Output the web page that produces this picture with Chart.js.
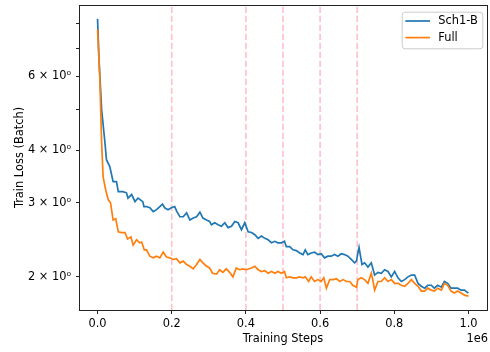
<!DOCTYPE html>
<html>
<head>
<meta charset="utf-8">
<script src="https://cdn.jsdelivr.net/npm/chart.js@4/dist/chart.umd.min.js"></script>
<style>
  html, body { margin: 0; padding: 0; background: #fff; }
  #chart { display: block; }
</style>
</head>
<body>
<canvas id="chart" width="490" height="352"></canvas>
<script>
// training steps are in units of 1e6 (the axis shows "1e6" as offset)
const sch1Steps = [
    0, 0.004, 0.011, 0.020, 0.024, 0.033, 0.042, 0.051, 0.056, 0.068,
    0.078, 0.082, 0.092, 0.101, 0.109, 0.122, 0.125, 0.132, 0.141, 0.150,
    0.159, 0.168, 0.175, 0.181, 0.190, 0.199, 0.208, 0.214, 0.222, 0.231,
    0.240, 0.249, 0.258, 0.267, 0.276, 0.284, 0.294, 0.302, 0.307, 0.316,
    0.325, 0.334, 0.343, 0.352, 0.361, 0.370, 0.379, 0.388, 0.397, 0.406,
    0.415, 0.424, 0.433, 0.442, 0.451, 0.460, 0.469, 0.478, 0.486, 0.496,
    0.504, 0.509, 0.518, 0.527, 0.536, 0.545, 0.554, 0.560, 0.567, 0.576,
    0.585, 0.594, 0.603, 0.612, 0.621, 0.630, 0.639, 0.648, 0.657, 0.666,
    0.675, 0.684, 0.693, 0.698, 0.702, 0.705, 0.709, 0.713, 0.720, 0.729,
    0.738, 0.747, 0.756, 0.765, 0.774, 0.783, 0.792, 0.801, 0.810, 0.819,
    0.828, 0.837, 0.846, 0.855, 0.864, 0.873, 0.882, 0.890, 0.900, 0.908,
    0.917, 0.927, 0.935, 0.944, 0.953, 0.962, 0.971, 0.980, 0.989, 1.000
];
const sch1Loss = [
    8.22, 6.57, 5.00, 4.17, 3.80, 3.66, 3.37, 3.37, 3.19, 3.19,
    3.17, 3.08, 3.14, 3.02, 3.08, 3.02, 2.94, 2.94, 2.92, 2.86,
    2.89, 2.94, 2.98, 2.92, 2.89, 2.92, 2.94, 2.86, 2.78, 2.78,
    2.84, 2.73, 2.76, 2.78, 2.85, 2.76, 2.73, 2.71, 2.66, 2.69,
    2.66, 2.64, 2.69, 2.62, 2.64, 2.71, 2.69, 2.59, 2.69, 2.56,
    2.55, 2.52, 2.47, 2.50, 2.47, 2.45, 2.41, 2.43, 2.41, 2.41,
    2.43, 2.36, 2.36, 2.32, 2.31, 2.28, 2.26, 2.32, 2.26, 2.28,
    2.29, 2.26, 2.27, 2.22, 2.24, 2.24, 2.26, 2.24, 2.27, 2.26,
    2.24, 2.20, 2.16, 2.18, 2.28, 2.35, 2.24, 2.14, 2.16, 2.11,
    2.16, 2.02, 2.05, 2.04, 2.08, 2.06, 2.00, 2.06, 1.99, 1.95,
    1.97, 2.00, 2.02, 2.02, 1.93, 1.90, 1.88, 1.91, 1.91, 1.88,
    1.91, 1.89, 1.95, 1.93, 1.88, 1.88, 1.88, 1.86, 1.86, 1.83
];
const fullSteps = [
    0, 0.006, 0.011, 0.015, 0.022, 0.029, 0.035, 0.042, 0.049, 0.056,
    0.065, 0.074, 0.081, 0.090, 0.096, 0.105, 0.114, 0.119, 0.126, 0.132,
    0.141, 0.150, 0.159, 0.168, 0.177, 0.186, 0.195, 0.204, 0.213, 0.222,
    0.231, 0.240, 0.249, 0.258, 0.267, 0.276, 0.284, 0.294, 0.302, 0.310,
    0.321, 0.329, 0.338, 0.347, 0.356, 0.365, 0.374, 0.383, 0.392, 0.401,
    0.415, 0.424, 0.433, 0.442, 0.451, 0.460, 0.469, 0.478, 0.486, 0.496,
    0.504, 0.509, 0.518, 0.527, 0.536, 0.545, 0.554, 0.560, 0.569, 0.576,
    0.585, 0.594, 0.603, 0.610, 0.617, 0.626, 0.635, 0.644, 0.653, 0.662,
    0.671, 0.680, 0.688, 0.698, 0.702, 0.711, 0.720, 0.729, 0.738, 0.742,
    0.747, 0.756, 0.765, 0.774, 0.783, 0.792, 0.801, 0.810, 0.819, 0.828,
    0.837, 0.846, 0.855, 0.864, 0.873, 0.882, 0.890, 0.900, 0.908, 0.917,
    0.927, 0.935, 0.944, 0.953, 0.962, 0.971, 0.980, 0.989, 1.000
];
const fullLoss = [
    7.75, 5.99, 4.17, 3.46, 3.22, 3.05, 3.00, 2.73, 2.75, 2.56,
    2.55, 2.55, 2.46, 2.49, 2.38, 2.45, 2.41, 2.42, 2.32, 2.32,
    2.24, 2.22, 2.24, 2.22, 2.29, 2.23, 2.22, 2.20, 2.21, 2.16,
    2.18, 2.14, 2.12, 2.09, 2.14, 2.20, 2.16, 2.12, 2.10, 2.04,
    2.03, 2.08, 2.05, 2.09, 2.05, 2.00, 2.10, 2.08, 2.09, 2.08,
    2.10, 2.12, 2.08, 2.06, 2.07, 2.04, 2.06, 2.04, 2.06, 2.04,
    2.06, 1.99, 2.00, 1.99, 1.99, 2.00, 1.99, 2.00, 1.95, 2.00,
    1.95, 1.97, 1.95, 1.99, 1.88, 1.97, 1.97, 1.98, 1.95, 1.97,
    1.95, 1.95, 1.91, 1.89, 1.97, 1.99, 1.97, 1.93, 2.04, 1.97,
    1.86, 1.95, 1.95, 1.99, 1.95, 1.97, 1.93, 1.93, 1.91, 1.90,
    1.93, 1.97, 1.93, 1.90, 1.85, 1.85, 1.88, 1.86, 1.85, 1.88,
    1.86, 1.93, 1.91, 1.85, 1.83, 1.85, 1.83, 1.81, 1.80
];

// vertical markers (schedule switch points)
const markerSteps = [0.2, 0.4, 0.5, 0.6, 0.7];

const xTicks = [0, 0.2, 0.4, 0.6, 0.8, 1.0];
const xTickLabels = ['0.0', '0.2', '0.4', '0.6', '0.8', '1.0'];
const yTicks = [2, 3, 4, 5, 6, 7, 8];
const yTickLabels = ['2 × 10⁰', '3 × 10⁰', '4 × 10⁰', '', '6 × 10⁰', '', ''];

const seriesNames = ['Sch1-B', 'Full'];
const seriesColors = ['#1f77b4', '#ff7f0e'];

const X_MIN = -0.05, X_MAX = 1.05;
const Y_MIN = 1.668, Y_MAX = 8.87;

const FONT_SIZE = 11.4;
Chart.defaults.font.family = "'DejaVu Sans', sans-serif";
Chart.defaults.font.size = FONT_SIZE;
Chart.defaults.color = '#000';

function toPoints(xs, ys) {
    return xs.map((x, i) => ({ x: x, y: ys[i] }));
}

// pink dashed lines behind the curves
const markerLines = {
    id: 'markerLines',
    beforeDatasetsDraw(chart) {
        const { ctx, chartArea, scales } = chart;
        ctx.save();
        ctx.strokeStyle = '#ffc0cb';
        ctx.lineWidth = 1.6;
        ctx.setLineDash([6.3, 2.7]);
        markerSteps.forEach(s => {
            const px = scales.x.getPixelForValue(s);
            ctx.beginPath();
            ctx.moveTo(px, chartArea.bottom);
            ctx.lineTo(px, chartArea.top);
            ctx.stroke();
        });
        ctx.restore();
    }
};

// box frame, legend and the offset text
const frameAndLegend = {
    id: 'frameAndLegend',
    afterDatasetsDraw(chart) {
        const { ctx, chartArea } = chart;
        ctx.save();
        ctx.strokeStyle = '#222';
        ctx.lineWidth = 1;
        ctx.strokeRect(chartArea.left + 0.5, chartArea.top + 0.5,
            chartArea.right - chartArea.left, chartArea.bottom - chartArea.top);

        // legend
        const bx = chartArea.right - 85.3, by = chartArea.top + 6.7;
        const bw = 80.6, bh = 36.6;
        ctx.beginPath();
        ctx.roundRect(bx + 0.5, by + 0.5, bw, bh, 3);
        ctx.fillStyle = 'rgba(255,255,255,0.8)';
        ctx.fill();
        ctx.strokeStyle = '#cccccc';
        ctx.stroke();

        ctx.font = FONT_SIZE + "px 'DejaVu Sans'";
        ctx.textBaseline = 'middle';
        ctx.textAlign = 'left';
        chart.data.datasets.forEach((ds, i) => {
            const ly = by + 9.3 + i * 16.6;
            ctx.strokeStyle = ds.borderColor;
            ctx.lineWidth = 1.7;
            ctx.beginPath();
            ctx.moveTo(bx + 3.6, ly);
            ctx.lineTo(bx + 28.3, ly);
            ctx.stroke();
            ctx.fillStyle = '#000';
            ctx.fillText(ds.label, bx + 36.6, ly);
        });

        ctx.textAlign = 'right';
        ctx.fillText('1e6', chartArea.right + 1, chartArea.bottom + 29);
        ctx.restore();
    }
};

const ctx = document.getElementById('chart').getContext('2d');
new Chart(ctx, {
    type: 'line',
    data: {
        datasets: [
            {
                label: seriesNames[0],
                data: toPoints(sch1Steps, sch1Loss),
                borderColor: seriesColors[0],
                borderWidth: 1.7,
                pointRadius: 0,
                tension: 0,
                order: 1,
            },
            {
                label: seriesNames[1],
                data: toPoints(fullSteps, fullLoss),
                borderColor: seriesColors[1],
                borderWidth: 1.7,
                pointRadius: 0,
                tension: 0,
                order: 0,
            },
        ],
    },
    options: {
        responsive: false,
        animation: false,
        devicePixelRatio: 1,
        layout: { padding: { top: 5, right: 3, left: 0, bottom: 0 } },
        plugins: {
            legend: { display: false },
            tooltip: { enabled: false },
        },
        scales: {
            x: {
                type: 'linear',
                min: X_MIN,
                max: X_MAX,
                afterBuildTicks: (scale) => {
                    scale.ticks = xTicks.map(v => ({ value: v }));
                },
                afterFit: (scale) => {
                    scale.height = 42;
                    scale.paddingLeft = 0;
                    scale.paddingRight = 0;
                },
                ticks: {
                    autoSkip: false,
                    maxRotation: 0,
                    padding: 3,
                    color: '#000',
                    callback: (v) => {
                        const i = xTicks.findIndex(t => Math.abs(t - v) < 1e-9);
                        return i >= 0 ? xTickLabels[i] : '';
                    },
                },
                grid: {
                    drawOnChartArea: false,
                    tickLength: 4,
                    tickColor: '#222',
                },
                border: { display: false },
                title: {
                    display: true,
                    text: 'Training Steps',
                    color: '#000',
                    padding: { top: 0, bottom: 6 },
                },
            },
            y: {
                type: 'logarithmic',
                min: Y_MIN,
                max: Y_MAX,
                afterBuildTicks: (scale) => {
                    scale.ticks = yTicks.map(v => ({ value: v }));
                },
                afterFit: (scale) => {
                    scale.width = 79;
                    scale.paddingTop = 0;
                    scale.paddingBottom = 0;
                },
                ticks: {
                    autoSkip: false,
                    padding: 5,
                    color: '#000',
                    callback: (v) => {
                        const i = yTicks.indexOf(v);
                        return i >= 0 ? yTickLabels[i] : '';
                    },
                },
                grid: {
                    drawOnChartArea: false,
                    tickLength: 3,
                    tickColor: '#222',
                },
                border: { display: false },
                title: {
                    display: true,
                    text: 'Train Loss (Batch)',
                    color: '#000',
                    padding: { top: 13, bottom: 0 },
                },
            },
        },
    },
    plugins: [markerLines, frameAndLegend],
});
</script>
</body>
</html>
